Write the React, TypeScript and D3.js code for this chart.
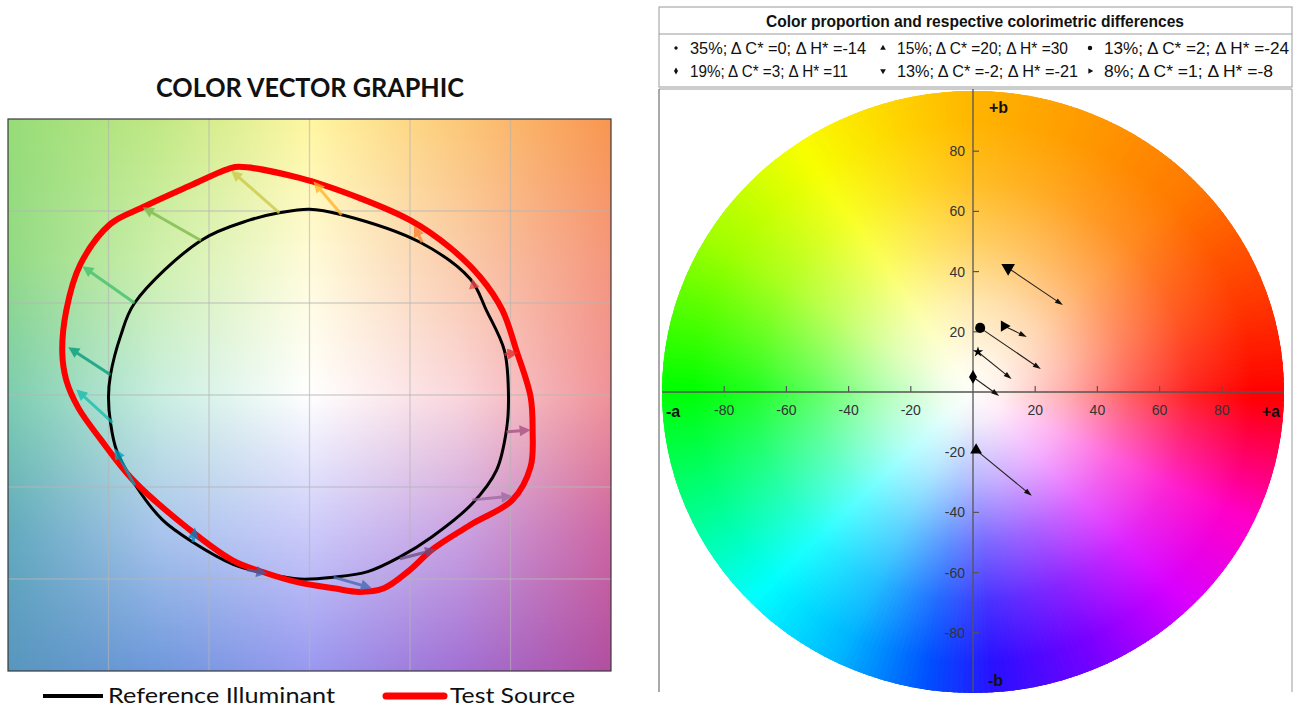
import React from "react";
import * as d3 from "d3";

// ---------------- LEFT CHART DATA (normalised colour-vector-graphic coordinates) ----------------
const leftTitle = "COLOR VECTOR GRAPHIC";
const leftLegendLabels = ["Reference Illuminant", "Test Source"];
const gridTicks = [-1, -0.5, 0, 0.5, 1];

const refA = [0.0, 0.16, 0.55, 0.8, 0.88, 0.97, 0.99, 0.98, 0.93, 0.81, 0.61, 0.45, 0.29, 0.12, -0.05, -0.21, -0.38, -0.58, -0.73, -0.86, -0.96, -0.99, -1.0, -0.99, -0.94, -0.87, -0.54, -0.3, -0.15];
const refB = [1.01, 0.98, 0.83, 0.63, 0.46, 0.24, -0.01, -0.19, -0.41, -0.59, -0.77, -0.88, -0.96, -0.99, -1.0, -0.97, -0.92, -0.8, -0.68, -0.5, -0.3, -0.15, -0.01, 0.11, 0.32, 0.5, 0.84, 0.95, 0.99];

const testA = [-0.35, -0.05, 0.25, 0.5, 0.7, 0.85, 0.96, 1.03, 1.1, 1.11, 1.1, 1.01, 0.81, 0.61, 0.5, 0.37, 0.25, 0.12, -0.05, -0.21, -0.38, -0.61, -0.88, -1.04, -1.15, -1.21, -1.23, -1.21, -1.14, -0.99, -0.83, -0.61, -0.4];
const testB = [1.24, 1.18, 1.07, 0.95, 0.8, 0.64, 0.46, 0.24, -0.01, -0.19, -0.39, -0.57, -0.7, -0.84, -0.95, -1.05, -1.07, -1.05, -1.02, -0.97, -0.9, -0.72, -0.46, -0.24, -0.07, 0.08, 0.23, 0.46, 0.71, 0.93, 1.02, 1.13, 1.23];

// 16 hue-bin vectors: start on reference, end on test
const binStartA = [0.97, 0.82, 0.56, 0.16, -0.15, -0.54, -0.87, -0.99, -0.98, -0.87, -0.58, -0.31, 0.12, 0.45, 0.81, 0.98];
const binStartB = [0.22, 0.58, 0.83, 0.98, 0.99, 0.84, 0.5, 0.11, -0.15, -0.49, -0.8, -0.95, -0.99, -0.89, -0.57, -0.2];
const binEndA = [1.04, 0.81, 0.52, 0.02, -0.39, -0.83, -1.13, -1.2, -1.16, -0.97, -0.57, -0.21, 0.31, 0.63, 1.01, 1.1];
const binEndB = [0.23, 0.63, 0.92, 1.16, 1.22, 1.02, 0.7, 0.26, 0.03, -0.29, -0.72, -0.97, -1.05, -0.84, -0.55, -0.19];
const binColors = ["#E62828", "#E74B4B", "#FB812E", "#FFB529", "#CBCA46", "#7EB94C", "#41C06D", "#009C7C", "#16BCB0", "#00A4BF", "#0085C3", "#3B62AA", "#4568AE", "#6A4E85", "#9D69A1", "#A74F81"];

// ---------------- RIGHT CHART DATA ----------------
const rightTitle = "Color proportion and respective colorimetric differences";
const wheelTicks = [-80, -60, -40, -20, 20, 40, 60, 80];
const seriesProportion = [35, 15, 13, 19, 13, 8];
const seriesDC = [0, 20, 2, 3, -2, 1];
const seriesDH = [-14, 30, -24, 11, -21, -8];
const seriesSymbol = ["point", "triangleUp", "circle", "diamond", "triangleDown", "triangleRight"];
const seriesStartA = [1.6, 1.0, 2.3, 0.0, 11.3, 10.0];
const seriesStartB = [13.3, -19.3, 21.3, 5.0, 41.2, 21.9];
const seriesEndA = [12.4, 18.9, 21.8, 8.4, 28.9, 17.3];
const seriesEndB = [4.3, -34.5, 7.6, -1.3, 28.9, 18.3];

// ---------------- STYLE CONSTANTS ----------------
const wheelHueAngles = [0, 20, 45, 70, 90, 105, 125, 150, 180, 205, 225, 245, 262, 275, 295, 315, 335, 350, 360];
const wheelHueColors = ["#ff0000", "#ff3a00", "#ff7a00", "#ff9c00", "#ffb400", "#ffd200", "#f8ff00", "#a0ff00", "#00ff00", "#00ff8c", "#00ffff", "#00b4ff", "#0050ff", "#2a10ff", "#7a00ff", "#d800ff", "#ff00c8", "#ff0050", "#ff0000"];
// background control grid (5 rows top->bottom, 5 columns left->right)
const bgGridFrac = [0, 0.25, 0.5, 0.75, 1];
const bgGridColors = [
  ["#96dc78", "#c0e884", "#fff6a0", "#fcc878", "#f89650"],
  ["#92da84", "#cff0ac", "#fffbd8", "#facbaa", "#f5967c"],
  ["#7ccdb0", "#c8eee0", "#ffffff", "#fad6dc", "#f09298"],
  ["#62aabe", "#a8c4ec", "#cbcafa", "#c9a2e2", "#cd66a2"],
  ["#5896be", "#6e98dc", "#9898f0", "#a270d4", "#b24ea0"],
];
const textWidths = [176, 171, 185, 158, 181, 169];

const xL = d3.scaleLinear().domain([-1.5, 1.5]).range([8, 611]);
const yL = d3.scaleLinear().domain([-1.5, 1.5]).range([671, 119]);
const xR = d3.scaleLinear().domain([-100, 100]).range([662, 1284]);
const yR = d3.scaleLinear().domain([-100, 100]).range([693, 91]);

const wheelColor = d3.scaleLinear<string>().domain(wheelHueAngles).range(wheelHueColors).interpolate(d3.interpolateRgb);
const bgColumnScales = bgGridFrac.map((_, c) =>
  d3.scaleLinear<string>().domain(bgGridFrac).range(bgGridColors.map((row) => row[c])).interpolate(d3.interpolateRgb)
);

const rad = (d: number) => (d * Math.PI) / 180;

function arrowParts(sx: number, sy: number, ex: number, ey: number, h: number, w: number) {
  const dx = ex - sx, dy = ey - sy;
  const len = Math.hypot(dx, dy) || 1;
  const ux = dx / len, uy = dy / len;
  const hl = Math.min(h, len);
  const bx = ex - ux * hl, by = ey - uy * hl;
  const px = -uy, py = ux;
  const head = `M${ex},${ey}L${bx + px * w},${by + py * w}L${bx - px * w},${by - py * w}Z`;
  return { line: [sx, sy, bx + ux * 1, by + uy * 1], head };
}

function symbolPath(kind: string, size: number) {
  switch (kind) {
    case "triangleUp":
    case "triangleDown":
    case "triangleRight":
      return d3.symbol(d3.symbolTriangle, size)();
    case "diamond":
      return d3.symbol(d3.symbolDiamond, size)();
    case "circle":
      return d3.symbol(d3.symbolCircle, size)();
    case "point":
      return d3.symbol(d3.symbolStar, size)();
    default:
      return d3.symbol(d3.symbolCircle, size)();
  }
}
function symbolRotate(kind: string) {
  if (kind === "triangleDown") return 180;
  if (kind === "triangleRight") return 90;
  return 0;
}

export default function App() {
  // ---------- left chart ----------
  const px0 = xL(-1.5), px1 = xL(1.5), py0 = yL(1.5), py1 = yL(-1.5);
  const bandH = 2;
  const bands = d3.range(py0, py1, bandH).map((y, i) => {
    const f = Math.min(1, Math.max(0, (y + bandH / 2 - py0) / (py1 - py0)));
    return { y, id: "bg" + i, stops: bgColumnScales.map((s) => s(f)) };
  });
  const closedLine = d3
    .line<[number, number]>()
    .x((d) => xL(d[0]))
    .y((d) => yL(d[1]))
    .curve(d3.curveCatmullRomClosed.alpha(0.5));
  const refPath = closedLine(refA.map((a, i) => [a, refB[i]] as [number, number])) || "";
  const testPath = closedLine(testA.map((a, i) => [a, testB[i]] as [number, number])) || "";
  const binArrows = binStartA.map((_, i) =>
    arrowParts(xL(binStartA[i]), yL(binStartB[i]), xL(binEndA[i]), yL(binEndB[i]), 11, 5.5)
  );

  // ---------- right chart ----------
  const rcx = xR(0), rcy = yR(0);
  const rx = xR(100) - xR(0), ry = yR(0) - yR(100);
  const wheelWedges = d3.range(0, 360, 1).map((deg) => {
    const a0 = rad(deg - 0.7), a1 = rad(deg + 1.7), k = 1.04;
    return {
      d: `M${rcx},${rcy}L${rcx + k * rx * Math.cos(a0)},${rcy - k * ry * Math.sin(a0)}L${rcx + k * rx * Math.cos(a1)},${rcy - k * ry * Math.sin(a1)}Z`,
      c: wheelColor(deg + 0.5),
    };
  });
  const seriesArrows = seriesStartA.map((_, i) =>
    arrowParts(xR(seriesStartA[i]), yR(seriesStartB[i]), xR(seriesEndA[i]), yR(seriesEndB[i]), 8, 2.6)
  );
  const markerSize: Record<string, number> = { point: 34, triangleUp: 60, circle: 80, diamond: 55, triangleDown: 80, triangleRight: 55 };
  const legendMarkerSize: Record<string, number> = { point: 10, triangleUp: 14, circle: 16, diamond: 14, triangleDown: 14, triangleRight: 14 };
  const legendColX = [676, 883, 1090];
  const legendRowY = [48, 71];

  const arial = "'Liberation Sans Narrow', 'Arial Narrow', 'Liberation Sans', Arial, sans-serif";
  const arialReg = "'Liberation Sans', Arial, sans-serif";
  const calibri = "Lato, 'Open Sans', sans-serif";

  return (
    <svg width={1301} height={708} style={{ position: "absolute", left: 0, top: 0, background: "#fff" }}>
      <defs>
        <clipPath id="wheelClip">
          <ellipse cx={rcx} cy={rcy} rx={rx} ry={ry} />
        </clipPath>
        {bands.map((b) => (
          <linearGradient key={b.id} id={b.id} gradientUnits="userSpaceOnUse" x1={px0} x2={px1} y1={0} y2={0}>
            {b.stops.map((c, j) => (
              <stop key={j} offset={bgGridFrac[j]} stopColor={c} />
            ))}
          </linearGradient>
        ))}
        <radialGradient id="wheelWhite" cx="0.5" cy="0.5" r="0.5">
          <stop offset="0" stopColor="#fffefa" stopOpacity={1} />
          <stop offset="0.1" stopColor="#fffefa" stopOpacity={0.93} />
          <stop offset="0.3" stopColor="#fff" stopOpacity={0.68} />
          <stop offset="0.5" stopColor="#fff" stopOpacity={0.38} />
          <stop offset="0.7" stopColor="#fff" stopOpacity={0.14} />
          <stop offset="0.9" stopColor="#fff" stopOpacity={0} />
        </radialGradient>
      </defs>

      {/* ================= LEFT CHART ================= */}
      <text x={310} y={97} textAnchor="middle" fontFamily={calibri} fontWeight={700} fontSize={26} textLength={308} lengthAdjust="spacingAndGlyphs" fill="#111">
        {leftTitle}
      </text>
      <g>
        {bands.map((b) => (
          <rect key={b.id} x={px0} y={b.y} width={px1 - px0} height={Math.min(bandH + 0.6, py1 - b.y)} fill={`url(#${b.id})`} />
        ))}
        {gridTicks.map((t) => (
          <line key={"gx" + t} x1={xL(t)} x2={xL(t)} y1={py0} y2={py1} stroke="#b4b4b4" strokeOpacity={0.6} strokeWidth={1.3} />
        ))}
        {gridTicks.map((t) => (
          <line key={"gy" + t} y1={yL(t)} y2={yL(t)} x1={px0} x2={px1} stroke="#b4b4b4" strokeOpacity={0.6} strokeWidth={1.3} />
        ))}
        <path d={refPath} fill="none" stroke="#000" strokeWidth={3} />
        <path d={testPath} fill="none" stroke="#ff0000" strokeWidth={6} strokeLinejoin="round" />
        {binArrows.map((a, i) => (
          <g key={i} opacity={0.78}>
            <line x1={a.line[0]} y1={a.line[1]} x2={a.line[2]} y2={a.line[3]} stroke={binColors[i]} strokeWidth={3} />
            <path d={a.head} fill={binColors[i]} />
          </g>
        ))}
      </g>
      <rect x={px0} y={py0} width={px1 - px0} height={py1 - py0} fill="none" stroke="#3a3a3a" strokeWidth={1.2} />

      {/* left legend */}
      <line x1={43} x2={103} y1={696} y2={696} stroke="#000" strokeWidth={4} />
      <text x={108} y={703} fontFamily={calibri} fontSize={21} textLength={227} lengthAdjust="spacingAndGlyphs" fill="#111">
        {leftLegendLabels[0]}
      </text>
      <line x1={386} x2={444} y1={696} y2={696} stroke="#ff0000" strokeWidth={7} strokeLinecap="round" />
      <text x={450} y={703} fontFamily={calibri} fontSize={21} textLength={125} lengthAdjust="spacingAndGlyphs" fill="#111">
        {leftLegendLabels[1]}
      </text>

      {/* ================= RIGHT CHART ================= */}
      {/* legend box */}
      <rect x={659} y={7} width={633} height={80} fill="#fff" stroke="#9a9a9a" strokeWidth={1} />
      <line x1={659} x2={1292} y1={34} y2={34} stroke="#9a9a9a" strokeWidth={1} />
      <text x={975} y={27} textAnchor="middle" fontFamily={arial} fontWeight={700} fontSize={17} textLength={418} lengthAdjust="spacingAndGlyphs" fill="#111">
        {rightTitle}
      </text>
      {seriesProportion.map((p, i) => {
        const col = i % 3, row = Math.floor(i / 3);
        const kind = seriesSymbol[i];
        const label = `${p}%; \u0394 C* =${seriesDC[i]}; \u0394 H* =${seriesDH[i]}`;
        return (
          <g key={i}>
            <path
              d={kind === "point" ? d3.symbol(d3.symbolCircle, 9)() || "" : symbolPath(kind, legendMarkerSize[kind]) || ""}
              transform={`translate(${legendColX[col]},${legendRowY[row]}) rotate(${symbolRotate(kind)})`}
              fill="#111"
            />
            <text x={legendColX[col] + 14} y={legendRowY[row] + 6} fontFamily={arial} fontSize={17} textLength={textWidths[i]} lengthAdjust="spacingAndGlyphs" fill="#111">
              {label}
            </text>
          </g>
        );
      })}

      {/* plot frame */}
      <line x1={659} x2={1292} y1={89} y2={89} stroke="#9a9a9a" strokeWidth={1} />
      <line x1={659} x2={659} y1={89} y2={692} stroke="#555" strokeWidth={1} />
      <line x1={1292} x2={1292} y1={89} y2={692} stroke="#9a9a9a" strokeWidth={1} />

      {/* colour wheel */}
      <g clipPath="url(#wheelClip)">
        {wheelWedges.map((w, i) => (
          <path key={i} d={w.d} fill={w.c} stroke={w.c} strokeWidth={0.6} />
        ))}
      </g>
      <ellipse cx={rcx} cy={rcy} rx={rx} ry={ry} fill="url(#wheelWhite)" />

      {/* axes */}
      <line x1={xR(-100)} x2={xR(100)} y1={rcy} y2={rcy} stroke="#555" strokeWidth={1.3} />
      <line x1={rcx} x2={rcx} y1={89} y2={692} stroke="#555" strokeWidth={1.3} />
      {wheelTicks.map((t) => (
        <g key={"xt" + t}>
          <line x1={xR(t)} x2={xR(t)} y1={rcy} y2={rcy - 6} stroke="#555" strokeWidth={1.2} />
          <text x={xR(t)} y={rcy + 23} textAnchor="middle" fontFamily={arialReg} fontSize={14} fill="#333">
            {t}
          </text>
        </g>
      ))}
      {wheelTicks.map((t) => (
        <g key={"yt" + t}>
          <line x1={rcx} x2={rcx + 6} y1={yR(t)} y2={yR(t)} stroke="#555" strokeWidth={1.2} />
          <text x={rcx - 8} y={yR(t) + 5} textAnchor="end" fontFamily={arialReg} fontSize={14} fill="#333">
            {t}
          </text>
        </g>
      ))}
      <text x={666} y={417} fontFamily={arialReg} fontWeight={700} fontSize={16} fill="#111">-a</text>
      <text x={1280} y={417} textAnchor="end" fontFamily={arialReg} fontWeight={700} fontSize={16} fill="#111">+a</text>
      <text x={989} y={113} fontFamily={arialReg} fontWeight={700} fontSize={16} fill="#111">+b</text>
      <text x={988} y={686} fontFamily={arialReg} fontWeight={700} fontSize={16} fill="#111">-b</text>

      {/* vectors */}
      {seriesArrows.map((a, i) => (
        <g key={"sa" + i}>
          <line x1={a.line[0]} y1={a.line[1]} x2={a.line[2]} y2={a.line[3]} stroke="#222" strokeWidth={1.1} />
          <path d={a.head} fill="#111" />
          <path
            d={symbolPath(seriesSymbol[i], markerSize[seriesSymbol[i]]) || ""}
            transform={`translate(${xR(seriesStartA[i])},${yR(seriesStartB[i])}) rotate(${symbolRotate(seriesSymbol[i])})`}
            fill="#000"
          />
        </g>
      ))}
    </svg>
  );
}
